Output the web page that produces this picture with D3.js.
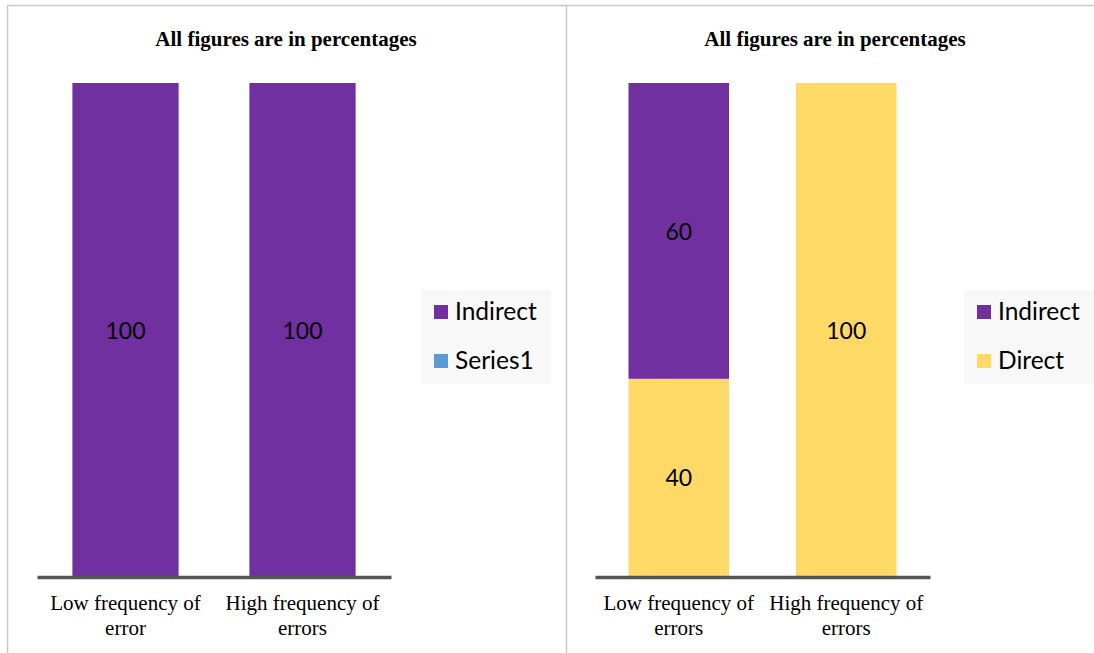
<!DOCTYPE html>
<html><head><meta charset="utf-8">
<script src="https://cdn.jsdelivr.net/npm/d3@7/dist/d3.min.js"></script>
<style>body{margin:0;background:#fff}svg{display:block}</style>
</head><body>
<svg id="c" width="1094" height="653"></svg>
<script>
const title = "All figures are in percentages";
const leftCategories = ["Low frequency of error", "High frequency of errors"];
const leftLabels = [["Low frequency of", "error"], ["High frequency of", "errors"]];
const leftIndirect = [100, 100];
const leftSeries1 = [0, 0];
const rightCategories = ["Low frequency of errors", "High frequency of errors"];
const rightLabels = [["Low frequency of", "errors"], ["High frequency of", "errors"]];
const rightDirect = [40, 100];
const rightIndirect = [60, 0];
const colors = {Indirect: "#7030a0", Direct: "#ffd966", Series1: "#5b9bd5"};

const svg = d3.select("#c");
// panel borders
svg.append("line").attr("x1",7).attr("x2",1094).attr("y1",5.5).attr("y2",5.5).attr("stroke","#c8c8c8").attr("stroke-width",1.5);
svg.append("line").attr("x1",7.5).attr("x2",7.5).attr("y1",5).attr("y2",653).attr("stroke","#c8c8c8").attr("stroke-width",1.5);
svg.append("line").attr("x1",566.5).attr("x2",566.5).attr("y1",5).attr("y2",653).attr("stroke","#c8c8c8").attr("stroke-width",1.5);

function panel(opts){
  const g = svg.append("g");
  const x = d3.scaleBand().domain(opts.categories).range(opts.xr).paddingInner(0.4).paddingOuter(0.2);
  const y = d3.scaleLinear().domain([0,100]).range([576,83]);
  g.append("text").attr("x",opts.titleX).attr("y",46).attr("text-anchor","middle")
    .attr("font-family","Liberation Serif").attr("font-weight","bold").attr("font-size",21).text(title);
  const stackKeys = opts.keys;
  const rows = opts.categories.map((c,i)=>{const r={cat:c}; stackKeys.forEach(k=>r[k]=opts.data[k][i]); return r;});
  const stack = d3.stack().keys(stackKeys)(rows);
  stack.forEach(layer=>{
    g.selectAll(null).data(layer).join("rect")
      .attr("x",d=>x(d.data.cat)).attr("width",x.bandwidth())
      .attr("y",d=>y(d[1])).attr("height",d=>y(d[0])-y(d[1]))
      .attr("fill",colors[layer.key]);
    g.selectAll(null).data(layer.filter(d=>d[1]-d[0]>0)).join("text")
      .attr("x",d=>x(d.data.cat)+x.bandwidth()/2).attr("y",d=>(y(d[0])+y(d[1]))/2+9)
      .attr("text-anchor","middle").attr("font-family","Lato, 'Open Sans', sans-serif").attr("font-size",23)
      .attr("fill","#000").text(d=>d[1]-d[0]);
  });
  // axis
  const ax = g.append("g").attr("transform","translate(0,577)").call(d3.axisBottom(x).tickSize(0).tickFormat(""));
  ax.select(".domain").attr("stroke","#555").attr("stroke-width",3.5);
  opts.labels.forEach((lines,i)=>{
    const cx = x(opts.categories[i])+x.bandwidth()/2;
    lines.forEach((t,j)=>{
      g.append("text").attr("x",cx).attr("y",610+j*25).attr("text-anchor","middle")
        .attr("font-family","Liberation Serif").attr("font-size",21).text(t);
    });
  });
  // legend
  const lg = g.append("g");
  lg.append("rect").attr("x",opts.legX).attr("y",290).attr("width",130).attr("height",94).attr("fill","#f8f8f8");
  opts.legend.forEach((k,i)=>{
    lg.append("rect").attr("x",opts.legX+13).attr("y",305+i*49).attr("width",14).attr("height",14).attr("fill",colors[k]);
    lg.append("text").attr("x",opts.legX+34).attr("y",320+i*49).attr("font-family","Lato, 'Open Sans', sans-serif")
      .attr("font-size",24.5).attr("fill","#000").text(k);
  });
}

panel({categories:leftCategories, labels:leftLabels, xr:[37,391], titleX:286,
  keys:["Series1","Indirect"], data:{Series1:leftSeries1, Indirect:leftIndirect},
  legX:421, legend:["Indirect","Series1"]});
panel({categories:rightCategories, labels:rightLabels, xr:[595,930], titleX:835,
  keys:["Direct","Indirect"], data:{Direct:rightDirect, Indirect:rightIndirect},
  legX:964, legend:["Indirect","Direct"]});
</script>
</body></html>
